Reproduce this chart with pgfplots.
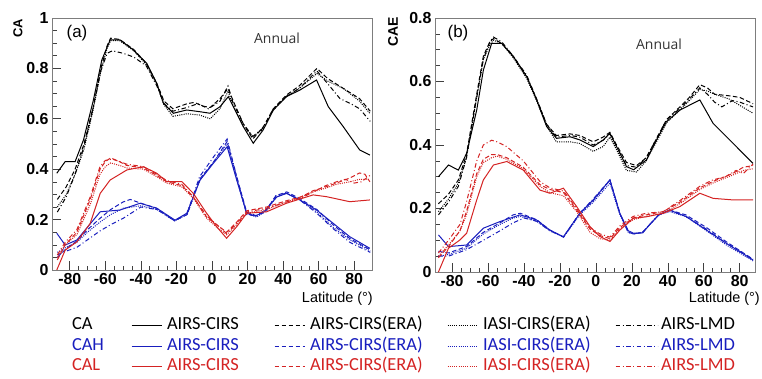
\documentclass[border=0pt]{standalone}
\usepackage{pgfplots}
\pgfplotsset{compat=1.18}
\usepackage{fontspec}
\setmainfont{Liberation Sans}
\newfontfamily\calib{Carlito}
\newfontfamily\opens{Open Sans}
\definecolor{cblue}{RGB}{25,30,190}
\definecolor{cred}{RGB}{212,35,35}
\definecolor{axgray}{RGB}{125,125,125}
\pgfplotsset{
  myax/.style={
    scale only axis, width=320bp,
    axis line style={axgray, line width=0.8bp},
    tick pos=left, tick align=inside,
    major tick length=9bp, minor tick length=4.5bp,
    every tick/.style={black!75, line width=0.6bp},
    minor x tick num=3, minor y tick num=3,
    xtick={-80,-60,...,80},
    tick label style={font=\fontsize{16}{18}\selectfont\bfseries},
    /pgf/number format/assume math mode=true,
    clip=true,
  },
  s1/.style={line width=1bp, solid},
  s2/.style={line width=1bp, dash pattern=on 4.5bp off 2.5bp},
  s3/.style={line width=1bp, dash pattern=on 1bp off 1.2bp},
  s4/.style={line width=1bp, dash pattern=on 4.5bp off 2.5bp on 1bp off 2.5bp},
  longleg/.style={legend image code/.code={\draw[##1] (0bp,0bp) -- (42bp,0bp); \path (45bp,0bp);}},
  noleg/.style={legend image code/.code={}},
}
\begin{document}
\begin{tikzpicture}[x=1bp,y=1bp]
\useasboundingbox (0,0) rectangle (762,378);
% ---------------- panel (a)
\begin{axis}[myax, height=252bp, at={(52bp,108bp)}, anchor=south west,
  xmin=-90, xmax=90, ymin=0, ymax=1, ytick={0,0.2,...,1},
  legend columns=5,
  legend style={at={(0.0625,-0.188)}, anchor=north west, draw=none, fill=none,
    inner sep=0pt, outer sep=0pt, column sep=0pt, row sep=4bp,
    font=\calib\fontsize{18.5}{20}\selectfont,
    nodes={inner sep=0pt, text height=12.5bp, text depth=4bp},
    cells={anchor=west}},
  legend image code/.code={\draw[#1] (0bp,0bp) -- (30bp,0bp); \path (35bp,0bp);},
]
% black
\addplot[black, s1, forget plot] coordinates {(-87.3,0.384)(-82.6,0.430)(-77.0,0.430)(-72.3,0.516)(-66.7,0.675)(-62.0,0.833)(-57.3,0.913)(-51.7,0.913)(-44.2,0.873)(-36.7,0.820)(-31.1,0.741)(-27.3,0.661)(-21.7,0.622)(-14.2,0.635)(-6.7,0.628)(-1.1,0.622)(4.5,0.648)(9.2,0.688)(12.0,0.648)(17.6,0.569)(23.2,0.503)(28.8,0.556)(34.5,0.635)(41.9,0.688)(49.4,0.714)(58.8,0.754)(65.4,0.648)(73.8,0.569)(83.1,0.476)(88.8,0.456)};
\addplot[black, s2, forget plot] coordinates {(-87,0.28)(-82,0.33)(-77,0.40)(-72,0.50)(-67,0.64)(-62.5,0.80)(-59,0.89)(-57,0.92)(-52,0.915)(-44,0.875)(-37,0.82)(-31,0.74)(-27,0.67)(-22,0.64)(-14,0.66)(-10,0.665)(-5,0.65)(-1,0.645)(4.5,0.68)(9,0.72)(12,0.67)(17.6,0.58)(23,0.52)(29,0.57)(34.5,0.64)(42,0.695)(49,0.73)(59,0.80)(65,0.76)(74,0.72)(83,0.68)(89,0.63)};
\addplot[black, s3, forget plot] coordinates {(-87,0.25)(-82,0.30)(-77,0.38)(-72,0.48)(-67,0.63)(-62.5,0.79)(-59,0.88)(-57,0.91)(-52,0.91)(-44,0.87)(-37,0.815)(-31,0.735)(-27,0.655)(-22,0.61)(-14,0.62)(-7,0.615)(-1,0.60)(4.5,0.64)(9,0.71)(12,0.65)(17.6,0.57)(23,0.53)(29,0.56)(34.5,0.635)(42,0.69)(49,0.72)(59,0.78)(65,0.75)(74,0.72)(83,0.67)(89,0.62)};
\addplot[black, s4, forget plot] coordinates {(-87,0.23)(-82,0.29)(-77,0.38)(-72,0.49)(-67,0.64)(-62.5,0.79)(-59,0.86)(-56,0.87)(-50,0.86)(-44,0.845)(-37,0.81)(-31,0.73)(-27,0.66)(-22,0.63)(-14,0.645)(-8,0.66)(-2,0.64)(4.5,0.67)(9,0.73)(12,0.66)(17.6,0.58)(23,0.53)(29,0.565)(34.5,0.64)(42,0.69)(49,0.72)(59,0.79)(65,0.74)(72,0.68)(78,0.66)(83,0.64)(89,0.59)};
% blue
\addplot[cblue, s1, forget plot] coordinates {(-87.3,0.146)(-82.6,0.099)(-76.0,0.119)(-62.9,0.231)(-51.7,0.238)(-40.4,0.265)(-31.1,0.245)(-20.8,0.198)(-14.2,0.225)(-6.7,0.357)(0.7,0.423)(8.5,0.489)(13.9,0.357)(19.5,0.225)(24,0.215)(28.6,0.226)(36.5,0.29)(41.9,0.304)(49.4,0.278)(58.8,0.238)(68.2,0.185)(77.5,0.132)(88.8,0.086)};
\addplot[cblue, s2, forget plot] coordinates {(-87,0.05)(-82,0.085)(-76,0.115)(-70,0.16)(-63,0.205)(-57,0.24)(-50,0.27)(-46,0.28)(-40,0.265)(-31,0.245)(-21,0.195)(-14,0.22)(-7,0.36)(1,0.43)(8.5,0.51)(13.9,0.37)(19.5,0.23)(25,0.215)(30.7,0.24)(36,0.295)(42,0.31)(49,0.285)(59,0.24)(68,0.18)(77.5,0.125)(89,0.08)};
\addplot[cblue, s3, forget plot] coordinates {(-87,0.07)(-82,0.09)(-76,0.11)(-70,0.15)(-63,0.19)(-57,0.22)(-50,0.245)(-40,0.255)(-31,0.24)(-21,0.195)(-14,0.22)(-7,0.355)(1,0.43)(8.5,0.50)(13.9,0.36)(19.5,0.225)(25,0.21)(30.7,0.235)(36,0.29)(42,0.305)(49,0.28)(59,0.23)(68,0.17)(77.5,0.12)(89,0.075)};
\addplot[cblue, s4, forget plot] coordinates {(-87,0.06)(-82,0.075)(-76,0.09)(-70,0.12)(-63,0.155)(-57,0.18)(-50,0.205)(-40,0.25)(-31,0.24)(-21,0.195)(-14,0.225)(-7,0.37)(1,0.45)(8.5,0.52)(13.9,0.37)(19.5,0.22)(25,0.215)(30.7,0.24)(36,0.295)(42,0.305)(49,0.28)(59,0.225)(68,0.165)(77.5,0.11)(89,0.07)};
% red
\addplot[cred, s1, forget plot] coordinates {(-87.3,0.0)(-82.6,0.079)(-76.0,0.112)(-68.5,0.185)(-62.9,0.304)(-57.3,0.357)(-47.9,0.397)(-38.6,0.410)(-31.1,0.384)(-25.5,0.351)(-17.0,0.351)(-10.5,0.304)(-3.0,0.225)(2.6,0.172)(8.2,0.126)(13.9,0.172)(19.5,0.225)(30.7,0.231)(41.9,0.265)(56.9,0.298)(64.4,0.291)(77.5,0.271)(88.8,0.278)};
\addplot[cred, s2, forget plot] coordinates {(-87,0.04)(-82.6,0.10)(-76,0.15)(-68.5,0.28)(-63,0.40)(-60,0.43)(-57,0.445)(-52,0.43)(-48,0.415)(-38.6,0.405)(-31,0.375)(-25.5,0.35)(-17,0.335)(-10.5,0.29)(-3,0.21)(2.6,0.18)(8.2,0.15)(13.9,0.19)(19.5,0.235)(30.7,0.25)(41.9,0.275)(50,0.29)(57,0.315)(64,0.33)(70,0.345)(77.5,0.365)(83,0.385)(86,0.38)(88.8,0.35)};
\addplot[cred, s3, forget plot] coordinates {(-87,0.05)(-82.6,0.10)(-76,0.14)(-68.5,0.26)(-63,0.38)(-60,0.41)(-57,0.425)(-52,0.415)(-48,0.405)(-38.6,0.40)(-31,0.37)(-25.5,0.345)(-17,0.33)(-10.5,0.285)(-3,0.205)(2.6,0.17)(8.2,0.14)(13.9,0.18)(19.5,0.225)(30.7,0.24)(41.9,0.27)(50,0.29)(57,0.31)(64,0.325)(70,0.34)(77.5,0.35)(83,0.36)(88.8,0.36)};
\addplot[cred, s4, forget plot] coordinates {(-87,0.06)(-82.6,0.11)(-76,0.16)(-68.5,0.29)(-63,0.41)(-60,0.435)(-56,0.44)(-52,0.43)(-48,0.42)(-38.6,0.41)(-31,0.38)(-25.5,0.355)(-17,0.34)(-10.5,0.29)(-3,0.215)(2.6,0.18)(8.2,0.145)(13.9,0.185)(19.5,0.23)(30.7,0.245)(41.9,0.27)(50,0.285)(57,0.31)(64,0.335)(70,0.35)(75,0.36)(80,0.345)(84,0.35)(88.8,0.375)};
% legend
\addlegendimage{noleg}\addlegendentry[text width=59bp]{CA}
\addlegendimage{color=black,s1}\addlegendentry[text width=107bp]{AIRS-CIRS}
\addlegendimage{color=black,s2}\addlegendentry[text width=137bp]{AIRS-CIRS(ERA)}
\addlegendimage{color=black,s3}\addlegendentry[text width=132bp]{IASI-CIRS(ERA)}
\addlegendimage{color=black,s4,longleg}\addlegendentry{AIRS-LMD}
\addlegendimage{noleg}\addlegendentry[text width=59bp,text=cblue]{CAH}
\addlegendimage{color=cblue,s1}\addlegendentry[text width=107bp,text=cblue]{AIRS-CIRS}
\addlegendimage{color=cblue,s2}\addlegendentry[text width=137bp,text=cblue]{AIRS-CIRS(ERA)}
\addlegendimage{color=cblue,s3}\addlegendentry[text width=132bp,text=cblue]{IASI-CIRS(ERA)}
\addlegendimage{color=cblue,s4,longleg}\addlegendentry[text=cblue]{AIRS-LMD}
\addlegendimage{noleg}\addlegendentry[text width=59bp,text=cred]{CAL}
\addlegendimage{color=cred,s1}\addlegendentry[text width=107bp,text=cred]{AIRS-CIRS}
\addlegendimage{color=cred,s2}\addlegendentry[text width=137bp,text=cred]{AIRS-CIRS(ERA)}
\addlegendimage{color=cred,s3}\addlegendentry[text width=132bp,text=cred]{IASI-CIRS(ERA)}
\addlegendimage{color=cred,s4,longleg}\addlegendentry[text=cred]{AIRS-LMD}
\end{axis}
% ---------------- panel (b)
\begin{axis}[myax, height=254bp, at={(435bp,106bp)}, anchor=south west,
  xmin=-89.5, xmax=88.5, ymin=0, ymax=0.8, ytick={0,0.2,...,0.8}]
% black
\addplot[black, s1] coordinates {(-87.6,0.300)(-82,0.337)(-76.5,0.321)(-71.9,0.374)(-66.3,0.510)(-62.6,0.636)(-58,0.720)(-52.4,0.720)(-45.9,0.678)(-38.5,0.615)(-33,0.542)(-27.4,0.458)(-21.9,0.421)(-14.4,0.426)(-8.9,0.416)(-1.5,0.395)(4.1,0.416)(7.8,0.437)(11.5,0.395)(17,0.332)(21,0.322)(28.1,0.353)(33.7,0.416)(39.3,0.474)(46.7,0.510)(57.8,0.542)(65.2,0.468)(74.4,0.416)(87.4,0.342)};
\addplot[black, s2] coordinates {(-87.6,0.215)(-82,0.245)(-76.5,0.29)(-72,0.37)(-66.3,0.56)(-62.6,0.68)(-59,0.725)(-57,0.735)(-52.4,0.72)(-46,0.68)(-38.5,0.615)(-33,0.545)(-27.4,0.465)(-22,0.43)(-14.4,0.435)(-9,0.43)(-1.5,0.41)(4,0.425)(7.8,0.44)(11.5,0.40)(17,0.345)(22.6,0.335)(28,0.36)(33.7,0.42)(39.3,0.48)(46.7,0.52)(52,0.55)(57.8,0.59)(62,0.58)(66,0.56)(74,0.555)(80,0.55)(87.4,0.53)};
\addplot[black, s3] coordinates {(-87.6,0.19)(-82,0.23)(-76.5,0.28)(-72,0.36)(-66.3,0.55)(-62.6,0.67)(-59,0.715)(-57,0.73)(-52.4,0.72)(-46,0.675)(-38.5,0.61)(-33,0.54)(-27.4,0.46)(-22,0.41)(-14.4,0.41)(-9,0.405)(-1.5,0.38)(4,0.395)(7.8,0.425)(11.5,0.385)(17,0.32)(22.6,0.315)(28,0.35)(33.7,0.41)(39.3,0.47)(46.7,0.51)(52,0.54)(57.8,0.575)(62,0.57)(66,0.56)(74,0.545)(80,0.525)(87.4,0.50)};
\addplot[black, s4] coordinates {(-87.6,0.18)(-82,0.22)(-76.5,0.27)(-72,0.36)(-66.3,0.55)(-62.6,0.67)(-59,0.725)(-57,0.74)(-52.4,0.725)(-46,0.68)(-38.5,0.62)(-33,0.545)(-27.4,0.465)(-22,0.425)(-14.4,0.43)(-9,0.425)(-1.5,0.40)(4,0.415)(7.8,0.435)(11.5,0.395)(17,0.335)(22.6,0.33)(28,0.36)(33.7,0.42)(39.3,0.48)(46.7,0.515)(52,0.545)(57.8,0.58)(62,0.56)(66,0.535)(70,0.52)(76,0.54)(80,0.535)(87.4,0.52)};
% blue
\addplot[cblue, s1] coordinates {(-87.6,0.117)(-82,0.080)(-71.9,0.085)(-62.6,0.138)(-53.3,0.159)(-42.2,0.180)(-33,0.164)(-25.6,0.132)(-18.1,0.111)(-8.9,0.185)(-1.5,0.227)(7.8,0.290)(13.3,0.185)(18,0.13)(21,0.122)(26,0.123)(30,0.15)(35,0.18)(41,0.195)(50.4,0.174)(61.5,0.132)(72.6,0.090)(87.4,0.038)};
\addplot[cblue, s2] coordinates {(-87.6,0.065)(-82,0.06)(-72,0.08)(-62.6,0.125)(-53.3,0.155)(-46,0.18)(-42,0.185)(-33,0.165)(-25.6,0.132)(-18,0.11)(-9,0.185)(-1.5,0.225)(7.8,0.29)(13.3,0.185)(18,0.125)(21,0.12)(26,0.125)(30,0.15)(35,0.18)(41,0.195)(50,0.18)(61.5,0.14)(72.6,0.095)(87.4,0.04)};
\addplot[cblue, s3] coordinates {(-87.6,0.05)(-82,0.055)(-72,0.075)(-62.6,0.12)(-53.3,0.15)(-46,0.17)(-42,0.175)(-33,0.16)(-25.6,0.13)(-18,0.11)(-9,0.18)(-1.5,0.22)(7.8,0.28)(13.3,0.18)(18,0.125)(21,0.12)(26,0.125)(30,0.15)(35,0.18)(41,0.19)(50,0.175)(61.5,0.13)(72.6,0.085)(87.4,0.035)};
\addplot[cblue, s4] coordinates {(-87.6,0.05)(-82,0.05)(-72,0.07)(-62.6,0.10)(-53.3,0.13)(-46,0.155)(-40,0.17)(-33,0.16)(-25.6,0.13)(-18,0.11)(-9,0.185)(-1.5,0.23)(7.8,0.29)(13.3,0.185)(18,0.125)(21,0.12)(26,0.125)(30,0.15)(35,0.18)(41,0.195)(50,0.175)(61.5,0.135)(72.6,0.09)(87.4,0.04)};
% red
\addplot[cred, s1] coordinates {(-87.6,0)(-82,0.075)(-75.6,0.101)(-71.9,0.122)(-66.3,0.227)(-62.6,0.290)(-57,0.337)(-49.6,0.348)(-40.4,0.321)(-31.1,0.258)(-25.6,0.248)(-18.1,0.264)(-10.7,0.206)(-3.3,0.143)(2.2,0.112)(7.8,0.096)(13.3,0.132)(20.7,0.169)(28.1,0.174)(37.4,0.185)(46.7,0.206)(57.8,0.248)(65.2,0.232)(76.3,0.227)(87.4,0.227)};
\addplot[cred, s2] coordinates {(-87.6,0.045)(-82,0.08)(-75.6,0.13)(-72,0.19)(-66.3,0.31)(-62.6,0.355)(-58,0.37)(-55,0.37)(-49.6,0.36)(-40.4,0.33)(-31.1,0.275)(-25.6,0.26)(-18,0.25)(-10.7,0.195)(-3.3,0.135)(2.2,0.115)(7.8,0.105)(13.3,0.14)(20.7,0.17)(28,0.18)(37.4,0.19)(46.7,0.22)(57.8,0.265)(65,0.285)(76,0.31)(82,0.33)(87.4,0.335)};
\addplot[cred, s3] coordinates {(-87.6,0.05)(-82,0.085)(-75.6,0.13)(-72,0.18)(-66.3,0.30)(-62.6,0.345)(-58,0.36)(-55,0.365)(-49.6,0.355)(-40.4,0.325)(-31.1,0.27)(-25.6,0.25)(-18,0.24)(-10.7,0.19)(-3.3,0.125)(2.2,0.105)(7.8,0.10)(13.3,0.135)(20.7,0.165)(28,0.175)(37.4,0.185)(46.7,0.215)(57.8,0.26)(65,0.28)(76,0.305)(82,0.32)(87.4,0.325)};
\addplot[cred, s4] coordinates {(-87.6,0.06)(-82,0.10)(-75.6,0.15)(-72,0.22)(-66.3,0.35)(-62.6,0.40)(-58,0.415)(-55,0.41)(-49.6,0.395)(-40.4,0.35)(-31.1,0.285)(-25.6,0.265)(-18,0.255)(-10.7,0.20)(-3.3,0.14)(2.2,0.12)(7.8,0.11)(13.3,0.145)(20.7,0.175)(28,0.185)(37.4,0.19)(46.7,0.225)(57.8,0.27)(65,0.29)(72,0.30)(78,0.32)(82,0.31)(87.4,0.34)};
\end{axis}
% ---------------- annotations
\node[rotate=90, font=\fontsize{13}{14}\selectfont\bfseries] at (18,350) {CA};
\node[rotate=90, font=\fontsize{14}{15}\selectfont\bfseries] at (393,346) {CAE};
\node[font=\fontsize{17}{18}\selectfont] at (77,345) {(a)};
\node[font=\fontsize{17}{18}\selectfont] at (458,345) {(b)};
\node[font=\opens\fontsize{14}{15}\selectfont, text=black!80] at (277,340) {Annual};
\node[font=\opens\fontsize{14}{15}\selectfont, text=black!80] at (659,334) {Annual};
\node[anchor=east, font=\fontsize{14.5}{16}\selectfont, inner sep=0pt] at (373,79) {Latitude (°)};
\node[anchor=east, font=\fontsize{14.5}{16}\selectfont, inner sep=0pt] at (760,79) {Latitude (°)};
\end{tikzpicture}
\end{document}
